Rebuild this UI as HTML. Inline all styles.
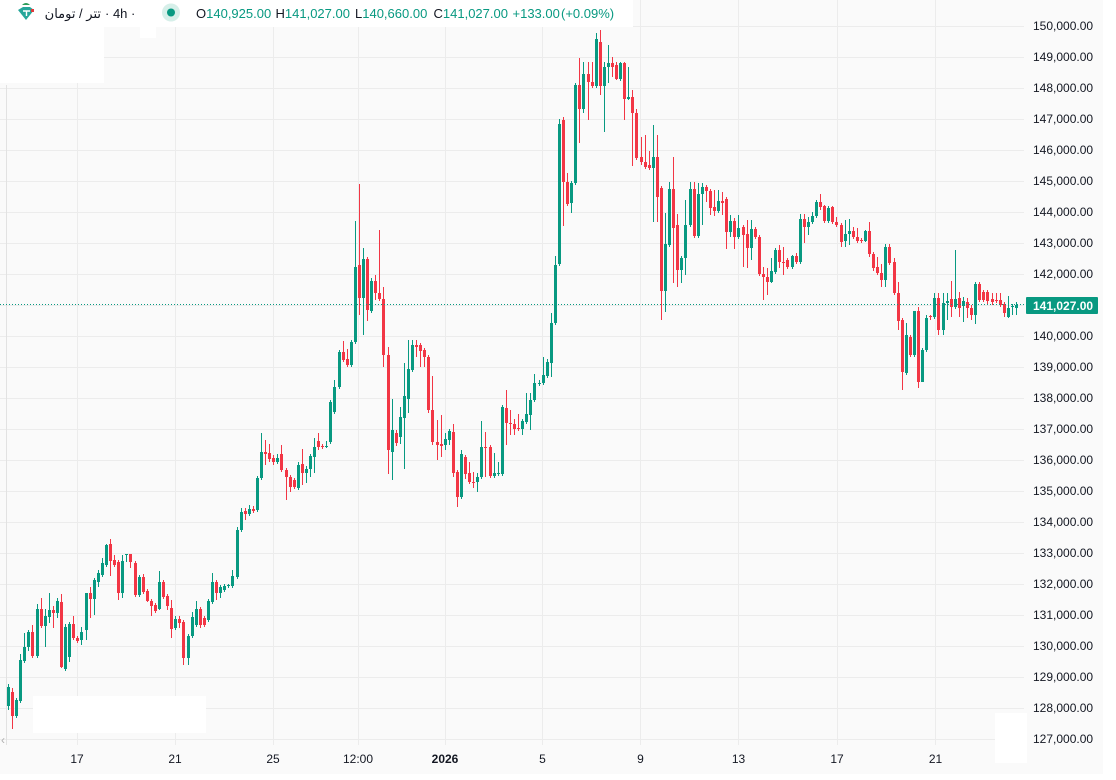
<!DOCTYPE html>
<html><head><meta charset="utf-8"><style>
html,body{margin:0;padding:0;width:1116px;height:780px;overflow:hidden;background:#fafafa}
svg{display:block}
text{font-family:"Liberation Sans","DejaVu Sans",sans-serif}
</style></head><body>
<svg width="1116" height="780" viewBox="0 0 1116 780" xmlns="http://www.w3.org/2000/svg">
<rect width="1116" height="780" fill="#fafafa"/>
<g stroke="#ececec" stroke-width="1" shape-rendering="crispEdges" fill="none">
<path d="M0 26.5H1024M0 57.5H1024M0 88.5H1024M0 119.5H1024M0 150.5H1024M0 181.5H1024M0 212.5H1024M0 243.5H1024M0 274.5H1024M0 305.5H1024M0 336.5H1024M0 367.5H1024M0 398.5H1024M0 429.5H1024M0 460.5H1024M0 491.5H1024M0 522.5H1024M0 553.5H1024M0 584.5H1024M0 615.5H1024M0 646.5H1024M0 677.5H1024M0 708.5H1024M0 739.5H1024"/>
<path d="M77.5 0V745M175.5 0V745M273.5 0V745M358.5 0V745M445.5 0V745M542.5 0V745M640.5 0V745M738.5 0V745M837.5 0V745M935.5 0V745"/>
<path d="M6.5 85V745" stroke="#e2e2e2"/>
</g>
<g fill="#ffffff">
<rect x="0" y="0" width="633" height="27"/>
<rect x="140" y="0" width="16" height="38"/>
<rect x="0" y="27" width="104" height="56"/>
<rect x="33" y="696" width="173" height="37"/>
<rect x="995" y="713" width="32" height="50"/>
<rect x="1103" y="0" width="13" height="780"/>
<rect x="0" y="774" width="1116" height="6"/>
</g>
<g fill="none" shape-rendering="crispEdges">
<path stroke="#089981" stroke-width="1" d="M8.5 684V710M16.5 698V718M20.5 654V703M24.5 633V663M28.5 630V651M37.5 604V658M45.5 609V647M49.5 593V623M57.5 598V618M65.5 624V671M69.5 622V662M81.5 627V645M86.5 593V640M94.5 578V615M98.5 570V587M102.5 558V577M106.5 544V567M122.5 555V598M126.5 554V562M139.5 575V597M159.5 571V610M175.5 616V630M188.5 634V665M192.5 612V638M196.5 601V627M208.5 599V622M212.5 573V604M220.5 585V598M224.5 584V592M228.5 584V588M232.5 570V588M237.5 527V579M241.5 508V532M249.5 505V516M257.5 476V512M261.5 433V480M277.5 454V464M298.5 462V490M306.5 466V483M310.5 454V477M314.5 438V473M326.5 441V448M330.5 400V444M334.5 380V414M339.5 350V389M351.5 340V367M355.5 221V344M363.5 248V335M371.5 278V313M392.5 399V480M400.5 407V444M404.5 363V469M408.5 340V413M412.5 340V372M445.5 433V450M449.5 429V445M461.5 450V499M477.5 473V492M481.5 421V479M494.5 453V478M498.5 462V476M502.5 405V476M522.5 419V435M526.5 393V424M530.5 393V430M534.5 374V402M539.5 380V386M543.5 357V385M547.5 359V378M551.5 313V377M555.5 256V325M559.5 119V266M571.5 181V213M575.5 83V185M583.5 62V113M596.5 33V88M604.5 62V132M608.5 45V83M620.5 62V81M628.5 67V100M653.5 125V222M665.5 213V312M669.5 182V247M681.5 256V283M685.5 200V275M690.5 182V227M698.5 183V238M702.5 183V225M718.5 190V213M730.5 215V237M738.5 215V239M751.5 220V260M771.5 258V283M775.5 248V274M792.5 255V269M800.5 214V264M808.5 217V235M812.5 212V224M816.5 200V218M828.5 206V223M845.5 220V247M849.5 219V245M865.5 230V242M885.5 244V287M906.5 323V375M914.5 311V357M922.5 348V382M926.5 315V352M934.5 293V319M943.5 293V335M947.5 293V320M955.5 250V309M963.5 297V322M975.5 282V324M1008.5 296V318M1012.5 304V315M1016.5 302V315"/>
<path stroke="#089981" stroke-width="3" d="M8.5 687V706M16.5 700V716M20.5 660V701M24.5 647V661M28.5 632V647M37.5 609V656M45.5 616V626M49.5 610V617M57.5 601V613M65.5 627V669M69.5 624V657M81.5 632V640M86.5 593V630M94.5 580V599M98.5 573V582M102.5 563V575M106.5 545V565M122.5 561V593M126.5 554V555M139.5 577V595M159.5 582V609M175.5 619V628M188.5 636V658M192.5 617V636M196.5 609V625M208.5 601V620M212.5 582V602M220.5 587V593M224.5 586V590M228.5 585V586M232.5 576V586M237.5 530V577M241.5 512V530M249.5 509V514M257.5 478V510M261.5 452V478M277.5 458V462M298.5 465V488M306.5 469V473M310.5 456V469M314.5 447V457M326.5 446V447M330.5 402V442M334.5 387V412M339.5 352V387M351.5 342V365M355.5 267V342M363.5 259V298M371.5 281V311M392.5 430V452M400.5 417V437M404.5 396V418M408.5 369V399M412.5 345V370M445.5 439V445M449.5 431V440M461.5 454V497M477.5 477V482M481.5 447V477M494.5 473V476M498.5 473V474M502.5 407V474M522.5 421V429M526.5 414V422M530.5 400V415M534.5 383V400M539.5 383V384M543.5 375V383M547.5 362V376M551.5 323V363M555.5 265V323M559.5 124V264M571.5 183V203M575.5 85V183M583.5 74V109M596.5 39V86M604.5 67V86M608.5 63V67M620.5 63V79M628.5 97V99M653.5 157V168M665.5 244V291M669.5 189V245M681.5 258V270M685.5 225V258M690.5 189V225M698.5 194V236M702.5 187V194M718.5 201V211M730.5 221V232M738.5 228V237M751.5 229V248M771.5 271V282M775.5 250V272M792.5 256V267M800.5 219V262M808.5 222V227M812.5 216V222M816.5 202V216M828.5 208V221M845.5 234V241M849.5 231V234M865.5 231V241M885.5 247V280M906.5 335V373M914.5 311V355M922.5 350V382M926.5 318V350M934.5 298V317M943.5 303V330M947.5 301V303M955.5 299V307M963.5 301V306M975.5 284V315M1008.5 308V317M1012.5 306V307M1016.5 305V308"/>
<path stroke="#f23645" stroke-width="1" d="M12.5 688V729M32.5 625V658M41.5 598V628M53.5 606V628M61.5 594V668M73.5 616V640M77.5 636V643M90.5 587V618M110.5 539V576M114.5 555V567M118.5 560V600M130.5 554V568M135.5 561V597M143.5 574V594M147.5 589V602M151.5 599V616M155.5 603V613M163.5 580V599M167.5 594V610M171.5 600V638M179.5 616V628M183.5 620V665M200.5 607V628M204.5 616V627M216.5 580V600M245.5 508V520M253.5 506V513M265.5 440V465M269.5 444V462M273.5 455V465M281.5 445V472M286.5 468V500M290.5 475V492M294.5 478V489M302.5 449V485M318.5 433V450M322.5 444V449M343.5 341V362M347.5 349V367M359.5 184V315M367.5 257V321M375.5 275V300M379.5 230V301M383.5 287V367M388.5 347V474M396.5 430V446M416.5 340V357M420.5 343V367M424.5 348V367M428.5 355V413M432.5 376V445M437.5 420V460M441.5 415V457M453.5 424V477M457.5 470V507M465.5 455V479M469.5 462V484M473.5 472V488M485.5 432V477M490.5 445V478M506.5 390V445M510.5 410V435M514.5 419V435M518.5 414V431M563.5 117V226M567.5 173V206M579.5 58V143M588.5 62V120M592.5 62V88M600.5 30V95M612.5 57V77M616.5 62V80M624.5 62V120M632.5 90V166M636.5 109V160M641.5 137V165M645.5 135V169M649.5 151V170M657.5 135V222M661.5 186V320M673.5 157V283M677.5 214V287M694.5 182V238M706.5 185V202M710.5 189V215M714.5 190V216M722.5 192V215M726.5 197V249M734.5 218V249M743.5 225V267M747.5 220V268M755.5 227V239M759.5 235V276M763.5 267V300M767.5 268V295M779.5 245V268M783.5 247V275M787.5 258V269M796.5 253V264M804.5 214V243M820.5 194V210M824.5 205V223M832.5 206V224M836.5 217V227M841.5 223V247M853.5 227V239M857.5 228V243M861.5 238V243M869.5 222V257M873.5 252V271M877.5 257V275M881.5 264V287M889.5 244V265M894.5 258V295M898.5 282V330M902.5 318V390M910.5 335V357M918.5 307V388M930.5 315V320M938.5 293V335M951.5 281V317M959.5 292V317M967.5 298V318M971.5 305V320M979.5 282V302M983.5 290V302M987.5 290V305M992.5 293V305M996.5 293V303M1000.5 293V307M1004.5 302V317"/>
<path stroke="#f23645" stroke-width="3" d="M12.5 692V716M32.5 632V656M41.5 609V626M53.5 610V613M61.5 602V667M73.5 624V638M77.5 638V641M90.5 593V599M110.5 544V561M114.5 560V565M118.5 562V593M130.5 554V562M135.5 563V595M143.5 577V592M147.5 591V601M151.5 601V606M155.5 605V611M163.5 582V597M167.5 596V606M171.5 608V629M179.5 619V623M183.5 622V658M200.5 609V625M204.5 618V625M216.5 582V593M245.5 511V514M253.5 509V511M265.5 452V454M269.5 453V459M273.5 458V462M281.5 454V470M286.5 470V477M290.5 477V487M294.5 480V487M302.5 464V473M318.5 441V447M322.5 446V447M343.5 352V360M347.5 359V365M359.5 265V298M367.5 259V310M375.5 281V293M379.5 293V299M383.5 299V355M388.5 355V450M396.5 433V443M416.5 345V347M420.5 345V351M424.5 350V357M428.5 357V410M432.5 410V442M437.5 442V445M441.5 444V446M453.5 432V473M457.5 472V497M465.5 457V474M469.5 473V482M473.5 482V483M485.5 447V448M490.5 447V476M506.5 408V423M510.5 423V424M514.5 424V429M518.5 428V429M563.5 120V182M567.5 182V204M579.5 85V109M588.5 74V82M592.5 82V86M600.5 42V86M612.5 63V67M616.5 65V79M624.5 63V99M632.5 97V113M636.5 113V158M641.5 157V162M645.5 162V167M649.5 165V168M657.5 157V197M661.5 188V291M673.5 189V228M677.5 225V270M694.5 189V236M706.5 187V191M710.5 191V208M714.5 207V211M722.5 201V203M726.5 199V232M734.5 221V237M743.5 227V235M747.5 234V248M755.5 229V237M759.5 237V274M763.5 274V277M767.5 277V282M779.5 250V262M783.5 262V263M787.5 260V267M796.5 256V262M804.5 219V227M820.5 202V207M824.5 206V221M832.5 207V222M836.5 222V225M841.5 225V242M853.5 231V237M857.5 237V241M861.5 240V241M869.5 231V254M873.5 254V268M877.5 267V273M881.5 273V280M889.5 247V263M894.5 262V293M898.5 293V321M902.5 320V372M910.5 337V355M918.5 311V382M930.5 316V317M938.5 298V330M951.5 299V307M959.5 298V308M967.5 302V308M971.5 308V315M979.5 284V300M983.5 292V300M987.5 292V301M992.5 299V302M996.5 300V301M1000.5 300V305M1004.5 304V313"/>
</g>
<line x1="0" y1="304.5" x2="1026" y2="304.5" stroke="#089981" stroke-width="1" stroke-dasharray="1 2"/>
<g font-size="12" fill="#131722">
<text x="1033" y="30">150,000.00</text>
<text x="1033" y="61">149,000.00</text>
<text x="1033" y="92">148,000.00</text>
<text x="1033" y="123">147,000.00</text>
<text x="1033" y="154">146,000.00</text>
<text x="1033" y="185">145,000.00</text>
<text x="1033" y="216">144,000.00</text>
<text x="1033" y="247">143,000.00</text>
<text x="1033" y="278">142,000.00</text>
<text x="1033" y="340">140,000.00</text>
<text x="1033" y="371">139,000.00</text>
<text x="1033" y="402">138,000.00</text>
<text x="1033" y="433">137,000.00</text>
<text x="1033" y="464">136,000.00</text>
<text x="1033" y="495">135,000.00</text>
<text x="1033" y="526">134,000.00</text>
<text x="1033" y="557">133,000.00</text>
<text x="1033" y="588">132,000.00</text>
<text x="1033" y="619">131,000.00</text>
<text x="1033" y="650">130,000.00</text>
<text x="1033" y="681">129,000.00</text>
<text x="1033" y="712">128,000.00</text>
<text x="1033" y="743">127,000.00</text>
</g>
<rect x="1026" y="297" width="72" height="17" rx="1" fill="#089981"/>
<text x="1033" y="310" font-size="12" font-weight="bold" fill="#ffffff">141,027.00</text>
<g font-size="12" fill="#131722" text-anchor="middle">
<text x="77" y="763">17</text>
<text x="175" y="763">21</text>
<text x="273" y="763">25</text>
<text x="358" y="763">12:00</text>
<text x="445" y="763" font-weight="bold">2026</text>
<text x="542.5" y="763">5</text>
<text x="640.5" y="763">9</text>
<text x="738.5" y="763">13</text>
<text x="837" y="763">17</text>
<text x="935.5" y="763">21</text>
</g>
<text x="1" y="744" font-size="12" fill="#b0b0b0">‹</text>
<g>
<path d="M18 10 L23 7 L30 7 L34 10 L26 20 Z" fill="#26a69a"/>
<path d="M23 11 H30 M26.5 11 V16" stroke="#ffffff" stroke-width="1.4"/>
<path d="M22 5 Q26 1 30 5 Z" fill="#2e9c5a"/>
<rect x="31" y="9" width="3" height="3" fill="#e03a3a"/>
</g>
<text x="101" y="18" font-size="13" fill="#131722" text-anchor="end">تتر / تومان</text>
<text x="105" y="18" font-size="13" fill="#131722">· 4h ·</text>
<circle cx="171" cy="12.5" r="9" fill="#d6efe9"/>
<circle cx="171" cy="12.5" r="4" fill="#089981"/>
<g font-size="13">
<text x="196" y="18"><tspan fill="#131722">O</tspan><tspan fill="#089981">140,925.00</tspan></text>
<text x="275.5" y="18"><tspan fill="#131722">H</tspan><tspan fill="#089981">141,027.00</tspan></text>
<text x="355" y="18"><tspan fill="#131722">L</tspan><tspan fill="#089981">140,660.00</tspan></text>
<text x="433.5" y="18"><tspan fill="#131722">C</tspan><tspan fill="#089981">141,027.00</tspan></text>
<text x="512.5" y="18" fill="#089981">+133.00</text>
<text x="561" y="18" fill="#089981">(+0.09%)</text>
</g>
</svg>
</body></html>
